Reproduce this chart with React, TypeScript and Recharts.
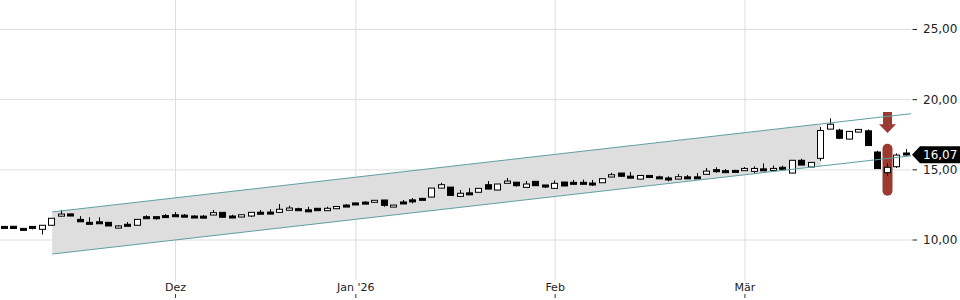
import React from 'react'
import { Area, Bar, CartesianGrid, ComposedChart, Line, ReferenceLine, XAxis, YAxis } from 'recharts'

// daily candles, 5 Nov 2025 .. 25 Mar 2026 (trading days only)
const opens = [
  10.97, 10.98, 10.83, 10.97, 10.76, 11.05, 11.7, 11.86, 11.47, 11.26,
  11.3, 11.26, 10.85, 11.12, 11.05, 11.66, 11.66, 11.74, 11.8, 11.77,
  11.71, 11.7, 11.78, 11.97, 11.71, 11.64, 11.71, 11.98, 11.99, 11.97,
  12.12, 12.23, 12.15, 12.26, 12.09, 12.23, 12.49, 12.64, 12.7, 12.69,
  12.85, 12.35, 12.71, 12.86, 12.97, 13.06, 13.7, 13.77, 13.11, 13.36,
  13.4, 13.94, 13.56, 14.04, 14.12, 13.75, 14.18, 13.92, 13.68, 14.13,
  14.11, 14.11, 14.06, 14.08, 14.49, 14.77, 14.55, 14.34, 14.6, 14.5,
  14.42, 14.34, 14.5, 14.5, 14.68, 15.01, 14.94, 14.96, 14.94, 14.89,
  15.07, 14.96, 15.18, 14.77, 15.68, 15.2, 15.82, 17.9, 17.83, 17.19,
  17.69, 17.78, 16.27, 14.8, 15.22, 16.2,
]
const highs = [
  10.99, 11.0, 10.85, 10.99, 11.06, 11.57, 12.14, 11.87, 11.7, 11.62,
  11.62, 11.28, 11.07, 11.28, 11.49, 11.76, 11.67, 11.85, 11.99, 11.85,
  11.76, 11.78, 12.14, 11.98, 11.8, 11.8, 11.97, 12.14, 12.19, 12.56,
  12.44, 12.3, 12.37, 12.27, 12.37, 12.4, 12.56, 12.66, 12.76, 12.84,
  12.86, 12.5, 12.85, 12.99, 12.98, 13.71, 14.08, 13.78, 13.56, 13.7,
  13.69, 14.2, 14.0, 14.42, 14.13, 14.2, 14.19, 13.93, 14.24, 14.14,
  14.28, 14.3, 14.28, 14.38, 14.79, 14.78, 14.84, 14.61, 14.61, 14.58,
  14.54, 14.71, 14.63, 14.77, 15.13, 15.18, 15.06, 15.0, 15.2, 15.25,
  15.46, 15.3, 15.3, 15.69, 15.79, 15.54, 18.05, 18.67, 17.93, 17.75,
  17.89, 17.88, 16.36, 15.46, 16.17, 16.48,
]
const lows = [
  10.93, 10.8, 10.76, 10.76, 10.4, 11.04, 11.68, 11.7, 11.3, 11.18,
  11.22, 11.0, 10.84, 11.01, 11.04, 11.56, 11.45, 11.62, 11.78, 11.75,
  11.68, 11.62, 11.77, 11.62, 11.62, 11.63, 11.64, 11.95, 11.88, 11.96,
  12.11, 12.12, 12.13, 12.08, 12.08, 12.22, 12.39, 12.53, 12.62, 12.68,
  12.37, 12.34, 12.6, 12.61, 12.86, 13.05, 13.69, 13.18, 13.1, 13.34,
  13.39, 13.62, 13.55, 14.03, 13.8, 13.74, 13.86, 13.7, 13.67, 13.84,
  13.99, 13.99, 13.85, 14.07, 14.48, 14.53, 14.53, 14.33, 14.48, 14.46,
  14.18, 14.33, 14.34, 14.49, 14.67, 14.8, 14.8, 14.88, 14.93, 14.7,
  15.05, 14.95, 15.05, 14.76, 15.33, 15.19, 15.65, 17.89, 17.19, 17.17,
  17.67, 16.72, 15.08, 14.56, 15.13, 16.0,
]
const closes = [
  10.95, 10.82, 10.78, 10.94, 11.05, 11.55, 11.85, 11.71, 11.3, 11.19,
  11.23, 11.0, 11.0, 11.02, 11.47, 11.57, 11.59, 11.72, 11.79, 11.76,
  11.7, 11.63, 11.95, 11.62, 11.7, 11.8, 11.97, 11.97, 11.9, 12.19,
  12.28, 12.16, 12.14, 12.09, 12.26, 12.39, 12.4, 12.54, 12.68, 12.83,
  12.47, 12.49, 12.61, 12.84, 12.87, 13.7, 13.94, 13.18, 13.33, 13.35,
  13.68, 13.63, 13.99, 14.2, 13.87, 13.99, 13.87, 13.82, 14.04, 13.85,
  14.0, 14.0, 14.04, 14.37, 14.65, 14.54, 14.53, 14.6, 14.49, 14.48,
  14.32, 14.51, 14.48, 14.48, 14.91, 14.95, 14.84, 14.89, 15.1, 15.1,
  15.05, 15.1, 15.08, 15.68, 15.34, 15.53, 17.8, 18.25, 17.25, 17.74,
  17.88, 16.73, 15.09, 15.18, 16.05, 16.07,
]

const monthTickIdx = [18, 37, 58, 78]
const monthLabels = ['Dez', "Jan '26", 'Feb', 'Mär']
const priceTicks = [10, 15, 20, 25]

// trend channel, read at candle index
const channelIdx = [5, 86, 95.5]
const channelUpper = [12.0, 18.27, 19.0]
const channelLower = [9.0, 15.27, 16.0]
const bandEndIdx = 86 // grey fill stops at the breakout candle

// sell signal on this candle
const signalIdx = 93
const signalRange = [13.15, 16.85]
const arrowRange = [17.63, 19.12]

const lastClose = closes[closes.length - 1]

const RED = '#9b3a31'
const TEAL = '#5f9fa3'

type Row = {
  i: number
  o?: number
  h?: number
  l?: number
  c?: number
  range?: [number, number]
  upper?: number
  lower?: number
  band?: [number, number]
}

const rows: Row[] = opens.map((o, i) => ({
  i,
  o,
  h: highs[i],
  l: lows[i],
  c: closes[i],
  range: [lows[i], highs[i]] as [number, number],
}))
channelIdx.forEach((k, j) => {
  let r = rows.find((d) => d.i === k)
  if (!r) {
    r = { i: k }
    rows.push(r)
  }
  r.upper = channelUpper[j]
  r.lower = channelLower[j]
  if (k <= bandEndIdx) r.band = [channelLower[j], channelUpper[j]]
})
rows.sort((a, b) => a.i - b.i)

function Candle(props: any) {
  const { x, y, width, height, payload } = props
  if (!payload || payload.o == null || !height) return null
  const { o, h, l, c } = payload
  const ppu = height / (h - l)
  const yOf = (v: number) => y + (h - v) * ppu
  // snap to half pixel so 1px strokes stay crisp
  const cx = Math.round(x + width / 2 - 0.5) + 0.5
  const top = yOf(Math.max(o, c))
  const bh = Math.max(yOf(Math.min(o, c)) - top, 2)
  const up = c >= o
  const marks =
    payload.i === signalIdx ? (
      <g>
        <rect
          x={cx - 5}
          y={yOf(signalRange[1])}
          width={10}
          height={yOf(signalRange[0]) - yOf(signalRange[1])}
          rx={5}
          fill={RED}
        />
        {(() => {
          const t = yOf(arrowRange[1])
          const b = yOf(arrowRange[0])
          const sh = b - (b - t) * 0.42
          return (
            <polygon
              points={`${cx - 4.5},${t} ${cx + 4.5},${t} ${cx + 4.5},${sh} ${cx + 8.5},${sh} ${cx},${b} ${cx - 8.5},${sh} ${cx - 4.5},${sh}`}
              fill={RED}
            />
          )
        })()}
      </g>
    ) : null
  return (
    <g>
      {marks}
      <line x1={cx} x2={cx} y1={yOf(h)} y2={yOf(l)} stroke="#000" strokeWidth={1} />
      <rect
        x={cx - 3}
        y={top}
        width={6}
        height={bh}
        fill={up ? '#fff' : '#000'}
        stroke="#000"
        strokeWidth={1}
      />
    </g>
  )
}

function MonthTick({ x, y, payload }: any) {
  const k = monthTickIdx.indexOf(payload.value)
  return (
    <g>
      <text x={x} y={y + 10} textAnchor="middle" fontSize={11} fill="#222">
        {monthLabels[k]}
      </text>
      <line x1={x} x2={x} y1={y + 13} y2={y + 17} stroke="#333" />
    </g>
  )
}

function PriceTick({ x, y, payload }: any) {
  return (
    <g>
      <line x1={x + 1.5} x2={x + 6} y1={y} y2={y} stroke="#222" />
      <text x={x + 12} y={y} dominantBaseline="central" fontSize={12} fill="#222">
        {payload.value.toFixed(2).replace('.', ',')}
      </text>
    </g>
  )
}

function PriceTag(props: any) {
  const vb = props.viewBox
  if (!vb) return null
  const tip = vb.x + vb.width + 1
  const y = vb.y
  return (
    <g>
      <polygon
        points={`${tip},${y} ${tip + 8},${y - 8.5} 960,${y - 8.5} 960,${y + 8.5} ${tip + 8},${y + 8.5}`}
        fill="#000"
      />
      <text x={tip + 11} y={y} dominantBaseline="central" fontSize={12} fill="#fff">
        {lastClose.toFixed(2).replace('.', ',')}
      </text>
    </g>
  )
}

export default function App() {
  return (
    <div style={{ position: 'absolute', left: 0, top: 0, fontFamily: 'DejaVu Sans' }}>
      <ComposedChart width={960} height={300} data={rows} margin={{ top: 0, right: 0, bottom: 0, left: 0 }}>
        <CartesianGrid stroke="#dedede" horizontalValues={priceTicks} verticalValues={monthTickIdx} />
        <XAxis
          dataKey="i"
          type="number"
          domain={[-0.5, 95.5]}
          allowDataOverflow
          ticks={monthTickIdx}
          interval={0}
          height={19}
          axisLine={false}
          tickLine={false}
          tickSize={0}
          tickMargin={0}
          tick={<MonthTick />}
        />
        <YAxis
          orientation="right"
          width={49}
          domain={[7.08, 27.1]}
          allowDataOverflow
          ticks={priceTicks}
          interval={0}
          axisLine={false}
          tickLine={false}
          tickSize={0}
          tickMargin={0}
          tick={<PriceTick />}
        />
        <Area
          dataKey="band"
          type="linear"
          connectNulls
          stroke="none"
          fill="#dedede"
          fillOpacity={1}
          dot={false}
          activeDot={false}
          isAnimationActive={false}
        />
        <Line dataKey="upper" type="linear" connectNulls stroke={TEAL} strokeWidth={1} dot={false} activeDot={false} isAnimationActive={false} />
        <Line dataKey="lower" type="linear" connectNulls stroke={TEAL} strokeWidth={1} dot={false} activeDot={false} isAnimationActive={false} />
        <Bar dataKey="range" barSize={7} shape={<Candle />} isAnimationActive={false} />
        <ReferenceLine y={lastClose} stroke="none" label={(p: any) => <PriceTag {...p} />} />
      </ComposedChart>
    </div>
  )
}
